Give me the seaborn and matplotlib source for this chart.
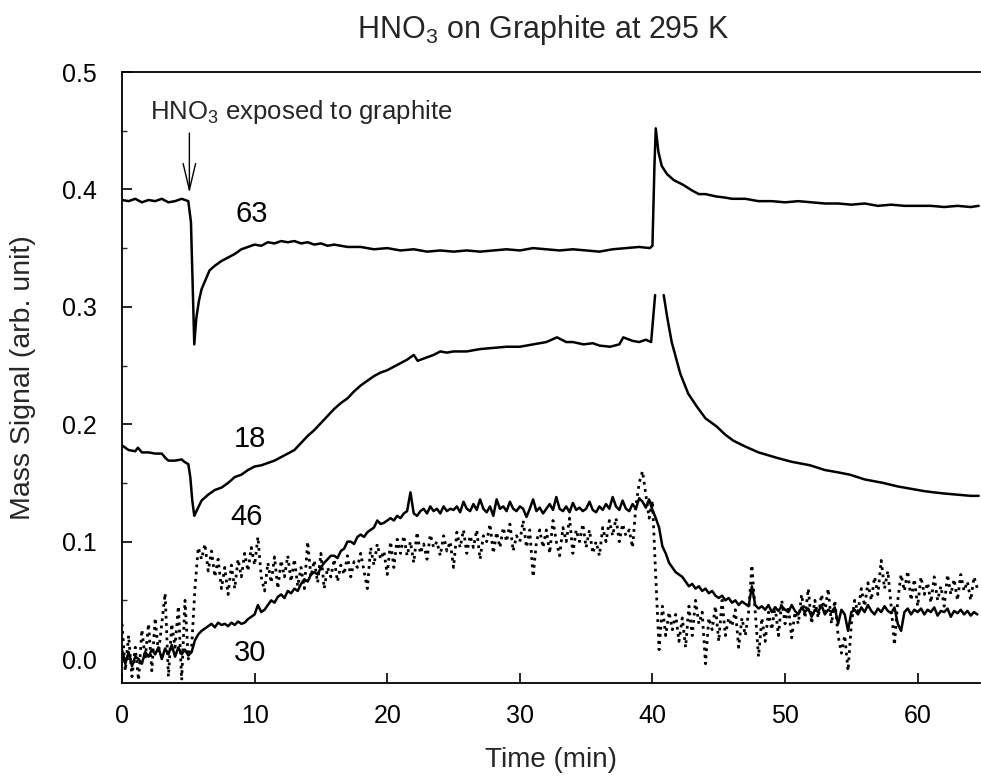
import numpy as np
import pandas as pd
import seaborn as sns
import matplotlib
matplotlib.use('Agg')
from matplotlib import pyplot as plt
from matplotlib.ticker import MultipleLocator

# mass 63 (HNO3) - times in min, signal in arb. unit
t63 = [0, 0.5, 1.0, 1.5, 2.0, 2.5, 3.0, 3.5, 4.0, 4.5, 5.0, 5.2, 5.35, 5.45, 5.6, 5.8, 6.0, 6.3, 6.6,
       7.0, 7.5, 8.0, 8.5, 9.0, 9.5, 10.0, 10.5, 11.0, 11.5, 12.0, 12.5, 13.0, 13.5, 14.0, 14.5, 15.0,
       15.5, 16.0, 17.0, 18.0, 19.0, 20.0, 21.0, 22.0, 23.0, 24.0, 25.0, 26.0, 27.0, 28.0, 29.0, 30.0,
       31.0, 32.0, 33.0, 34.0, 35.0, 36.0, 37.0, 38.0, 39.0, 39.8, 40.0, 40.15, 40.25, 40.45, 40.7,
       41.1, 41.6, 42.3, 43.0, 43.5, 44.0, 44.8, 45.5, 46.0, 47.0, 48.0, 49.0, 50.0, 51.0, 52.0, 53.0,
       54.0, 55.0, 56.0, 57.0, 58.0, 59.0, 60.0, 61.0, 62.0, 63.0, 64.0, 64.6]
m63 = [0.391, 0.390, 0.392, 0.389, 0.391, 0.390, 0.392, 0.389, 0.390, 0.392, 0.390, 0.372, 0.310, 0.268,
       0.290, 0.305, 0.315, 0.323, 0.331, 0.335, 0.339, 0.342, 0.345, 0.349, 0.351, 0.353, 0.352, 0.355,
       0.354, 0.356, 0.355, 0.356, 0.354, 0.355, 0.353, 0.354, 0.352, 0.353, 0.351, 0.351, 0.349, 0.350,
       0.348, 0.349, 0.347, 0.348, 0.347, 0.348, 0.347, 0.348, 0.349, 0.348, 0.350, 0.349, 0.348, 0.349,
       0.348, 0.347, 0.349, 0.350, 0.351, 0.350, 0.352, 0.420, 0.452, 0.432, 0.420, 0.413, 0.408, 0.404,
       0.399, 0.396, 0.396, 0.394, 0.393, 0.392, 0.392, 0.390, 0.390, 0.389, 0.390, 0.389, 0.388, 0.388,
       0.387, 0.388, 0.386, 0.387, 0.386, 0.386, 0.386, 0.385, 0.386, 0.385, 0.386]

# mass 18 (H2O), the peak at 40 min is cut in the original, so two segments
t18a = [0, 0.5, 1.0, 1.2, 1.5, 2.0, 2.5, 3.0, 3.3, 3.5, 4.0, 4.5, 4.7, 5.0, 5.15, 5.3, 5.45, 5.7, 6.0,
        6.5, 7.0, 7.5, 8.0, 8.5, 9.0, 9.5, 10.0, 10.5, 11.0, 11.5, 12.0, 12.5, 13.0, 13.5, 14.0, 14.5,
        15.0, 15.5, 16.0, 16.5, 17.0, 17.5, 18.0, 18.5, 19.0, 19.5, 20.0, 20.5, 21.0, 21.5, 22.0, 22.3,
        23.0, 23.5, 24.0, 24.5, 25.0, 26.0, 27.0, 28.0, 29.0, 30.0, 31.0, 32.0, 32.8, 33.5, 34.0, 34.8,
        35.5, 36.0, 36.8, 37.5, 37.8, 38.5, 39.0, 39.5, 39.9, 40.05, 40.2]
m18a = [0.182, 0.178, 0.177, 0.180, 0.176, 0.176, 0.175, 0.175, 0.171, 0.169, 0.169, 0.170, 0.168,
        0.166, 0.155, 0.135, 0.122, 0.128, 0.135, 0.140, 0.144, 0.146, 0.150, 0.155, 0.157, 0.161, 0.164,
        0.165, 0.167, 0.169, 0.172, 0.175, 0.178, 0.184, 0.190, 0.195, 0.201, 0.207, 0.213, 0.218, 0.222,
        0.228, 0.233, 0.237, 0.241, 0.244, 0.246, 0.249, 0.252, 0.255, 0.259, 0.254, 0.257, 0.259, 0.262,
        0.261, 0.262, 0.262, 0.264, 0.265, 0.266, 0.266, 0.268, 0.270, 0.274, 0.270, 0.270, 0.268, 0.269,
        0.267, 0.266, 0.268, 0.274, 0.271, 0.270, 0.272, 0.270, 0.290, 0.310]
t18b = [40.85, 41.1, 41.45, 42.1, 42.7, 43.35, 44.0, 44.85, 45.5, 46.1, 47.0, 48.0, 48.6, 49.5, 50.5,
        51.9, 53.0, 54.0, 54.9, 56.0, 57.4, 58.5, 59.5, 60.5, 61.2, 62.0, 63.0, 64.0, 64.6]
m18b = [0.310, 0.292, 0.270, 0.243, 0.226, 0.215, 0.205, 0.198, 0.191, 0.186, 0.181, 0.176, 0.174,
        0.171, 0.168, 0.165, 0.161, 0.159, 0.157, 0.153, 0.150, 0.147, 0.145, 0.143, 0.142, 0.141,
        0.140, 0.139, 0.139]

# masses 46 and 30 sampled every 0.25 min, one row = 5 min
m46 = [
    0.03, -0.01, 0.02, -0.015, 0.01, -0.018, 0.025, 0.0, 0.03, -0.01, 0.035, 0.005, 0.03, 0.056, -0.015, 0.03, 0.01, 0.045, -0.018, 0.05,
    0.0, 0.01, 0.06, 0.095, 0.085, 0.098, 0.075, 0.092, 0.07, 0.085, 0.06, 0.078, 0.055, 0.08, 0.06, 0.085, 0.07, 0.09, 0.075, 0.095,
    0.08, 0.104, 0.07, 0.058, 0.082, 0.065, 0.087, 0.06, 0.084, 0.07, 0.088, 0.066, 0.085, 0.062, 0.078, 0.06, 0.1, 0.07, 0.084, 0.065,
    0.09, 0.06, 0.078, 0.07, 0.085, 0.066, 0.08, 0.072, 0.088, 0.07, 0.083, 0.078, 0.09, 0.075, 0.06, 0.095, 0.08, 0.098, 0.085, 0.092,
    0.072, 0.1, 0.078, 0.102, 0.09, 0.105, 0.088, 0.1, 0.082, 0.108, 0.09, 0.098, 0.085, 0.106, 0.095, 0.1, 0.088, 0.105, 0.092, 0.1,
    0.078, 0.108, 0.095, 0.11, 0.09, 0.105, 0.095, 0.11, 0.085, 0.105, 0.1, 0.115, 0.09, 0.108, 0.095, 0.112, 0.1, 0.115, 0.092, 0.105,
    0.1, 0.118, 0.095, 0.11, 0.07, 0.1, 0.11, 0.095, 0.11, 0.09, 0.118, 0.1, 0.088, 0.112, 0.1, 0.12, 0.09, 0.11, 0.1, 0.115,
    0.095, 0.11, 0.09, 0.1, 0.088, 0.112, 0.1, 0.118, 0.105, 0.12, 0.1, 0.115, 0.105, 0.11, 0.095, 0.13, 0.15, 0.16, 0.14, 0.12,
    0.135, 0.07, 0.008, 0.045, 0.02, 0.04, 0.025, 0.038, 0.015, 0.035, 0.01, 0.045, 0.02, 0.05, 0.03, 0.04, -0.004, 0.035, 0.025, 0.045,
    0.015, 0.05, 0.02, 0.035, 0.028, 0.042, 0.01, 0.035, 0.02, 0.04, 0.08, 0.04, 0.002, 0.035, 0.015, 0.04, 0.025, 0.045, 0.02, 0.05,
    0.03, 0.045, 0.018, 0.04, 0.03, 0.055, 0.035, 0.06, 0.03, 0.05, 0.035, 0.055, 0.04, 0.06, 0.03, 0.05, 0.02, 0.005, 0.02, -0.01,
    0.03, 0.05, 0.04, 0.06, 0.045, 0.065, 0.05, 0.07, 0.055, 0.084, 0.06, 0.075, 0.045, 0.012, 0.05, 0.072, 0.058, 0.075, 0.05, 0.068,
    0.045, 0.07, 0.055, 0.065, 0.048, 0.07, 0.05, 0.062, 0.045, 0.072, 0.055, 0.068, 0.05, 0.072, 0.058, 0.066, 0.05, 0.07, 0.06,
]
m30 = [
    0.008, -0.004, 0.006, -0.006, 0.002, 0.0, -0.004, 0.006, 0.002, 0.008, 0.004, 0.01, 0.0, 0.009, 0.004, 0.012, 0.002, 0.01, 0.004, 0.008,
    0.003, 0.006, 0.016, 0.021, 0.024, 0.026, 0.028, 0.03, 0.027, 0.031, 0.029, 0.03, 0.028, 0.031, 0.029, 0.032, 0.03, 0.031, 0.034, 0.036,
    0.038, 0.046, 0.04, 0.042, 0.046, 0.05, 0.048, 0.053, 0.055, 0.052, 0.058, 0.056, 0.06, 0.058, 0.064, 0.068, 0.066, 0.072, 0.074, 0.072,
    0.078, 0.082, 0.085, 0.088, 0.088, 0.086, 0.092, 0.094, 0.1, 0.1, 0.098, 0.104, 0.106, 0.104, 0.108, 0.11, 0.112, 0.118, 0.115, 0.116,
    0.118, 0.12, 0.118, 0.122, 0.12, 0.124, 0.126, 0.142, 0.124, 0.122, 0.126, 0.128, 0.124, 0.13, 0.126, 0.128, 0.124, 0.13, 0.126, 0.128,
    0.127, 0.13, 0.125, 0.134, 0.128, 0.126, 0.132, 0.127, 0.136, 0.128, 0.125, 0.13, 0.122, 0.136, 0.128, 0.13, 0.126, 0.134, 0.128, 0.126,
    0.13, 0.128, 0.121, 0.128, 0.136, 0.126, 0.129, 0.124, 0.128, 0.132, 0.127, 0.138, 0.128, 0.126, 0.13, 0.125, 0.133, 0.127, 0.129, 0.126,
    0.128, 0.134, 0.127, 0.125, 0.13, 0.127, 0.132, 0.128, 0.138, 0.13, 0.127, 0.135, 0.128, 0.126, 0.132, 0.128, 0.137, 0.134, 0.129, 0.136,
    0.127, 0.12, 0.112, 0.096, 0.09, 0.082, 0.078, 0.074, 0.072, 0.07, 0.066, 0.062, 0.064, 0.06, 0.062, 0.058, 0.06, 0.056, 0.058, 0.054,
    0.052, 0.054, 0.05, 0.052, 0.048, 0.05, 0.046, 0.049, 0.047, 0.045, 0.062, 0.046, 0.043, 0.045, 0.042, 0.046, 0.04, 0.044, 0.041, 0.045,
    0.042, 0.04, 0.046, 0.041, 0.038, 0.044, 0.04, 0.043, 0.036, 0.042, 0.04, 0.046, 0.038, 0.042, 0.04, 0.044, 0.03, 0.042, 0.038, 0.024,
    0.04, 0.042, 0.038, 0.044, 0.04, 0.046, 0.041, 0.038, 0.043, 0.04, 0.045, 0.041, 0.039, 0.044, 0.03, 0.024, 0.04, 0.043, 0.038, 0.042,
    0.04, 0.043, 0.038, 0.042, 0.04, 0.044, 0.037, 0.041, 0.04, 0.043, 0.036, 0.041, 0.039, 0.042, 0.038, 0.041, 0.037, 0.04, 0.038,
]
t_fast = np.arange(len(m46)) * 0.25

curve_labels = ['63', '18', '46', '30']
label_t = [9.78, 9.65, 9.43, 9.63]
label_y = [0.372, 0.181, 0.114, -0.002]

df18 = pd.DataFrame({'t': t18a + t18b, 'v': m18a + m18b,
                     'seg': [0] * len(t18a) + [1] * len(t18b)})

sns.set_theme(style='ticks')
plt.rcParams['font.family'] = ['Liberation Sans', 'DejaVu Sans']
plt.rcParams['mathtext.fontset'] = 'custom'
plt.rcParams['mathtext.rm'] = 'Liberation Sans'

fig = plt.figure(figsize=(9.81, 7.77), dpi=100)
ax = fig.add_axes([122 / 981, 1 - 683 / 777, (980 - 122) / 981, (683 - 72) / 777])

sns.lineplot(x=t_fast, y=m46, ax=ax, color='black', linewidth=2.0, linestyle=(0, (1, 1.6)))
sns.lineplot(x=t_fast, y=m30, ax=ax, color='black', linewidth=1.8)
sns.lineplot(x=t63, y=m63, ax=ax, color='black', linewidth=1.8)
sns.lineplot(data=df18, x='t', y='v', units='seg', estimator=None, ax=ax, color='black', linewidth=1.8)

for lab, tx, ty in zip(curve_labels, label_t, label_y):
    ax.text(tx, ty, lab, fontsize=21, ha='center', va='baseline', color='black')

ax.annotate('', xy=(5.08, 0.397), xytext=(5.08, 0.448),
            arrowprops=dict(arrowstyle='->,head_length=1.9,head_width=0.45', lw=1.0,
                            color='black', mutation_scale=10, shrinkA=0, shrinkB=0))
ax.text(2.11, 0.460, 'HNO$_3$ exposed to graphite', fontsize=18.5, ha='left', va='baseline')

ax.set_xlim(0, 64.7)
ax.set_ylim(-0.0204, 0.5)
ax.set_xticks([0, 10, 20, 30, 40, 50, 60])
ax.set_yticks([0.0, 0.1, 0.2, 0.3, 0.4, 0.5])
ax.set_yticklabels(['0.0', '0.1', '0.2', '0.3', '0.4', '0.5'])
ax.yaxis.set_minor_locator(MultipleLocator(0.05))
ax.tick_params(axis='both', which='major', direction='in', length=7, width=1.2, labelsize=18, colors='black')
ax.tick_params(axis='x', which='major', pad=15)
ax.tick_params(axis='y', which='major', pad=18)
ax.tick_params(axis='y', which='minor', direction='in', length=3.5, width=1.0)
ax.spines['right'].set_visible(False)
for s in ['top', 'left', 'bottom']:
    ax.spines[s].set_linewidth(1.3)
    ax.spines[s].set_color('black')

ax.set_xlabel('Time (min)', fontsize=20, labelpad=14)
ax.set_ylabel('Mass Signal (arb. unit)', fontsize=20.5)
ax.yaxis.set_label_coords(-0.10, 0.5)

fig.text(543 / 981, 1 - 38 / 777, 'HNO$_3$ on Graphite at 295 K', fontsize=22, ha='center', va='baseline')

fig.savefig('out.png', dpi=100)
